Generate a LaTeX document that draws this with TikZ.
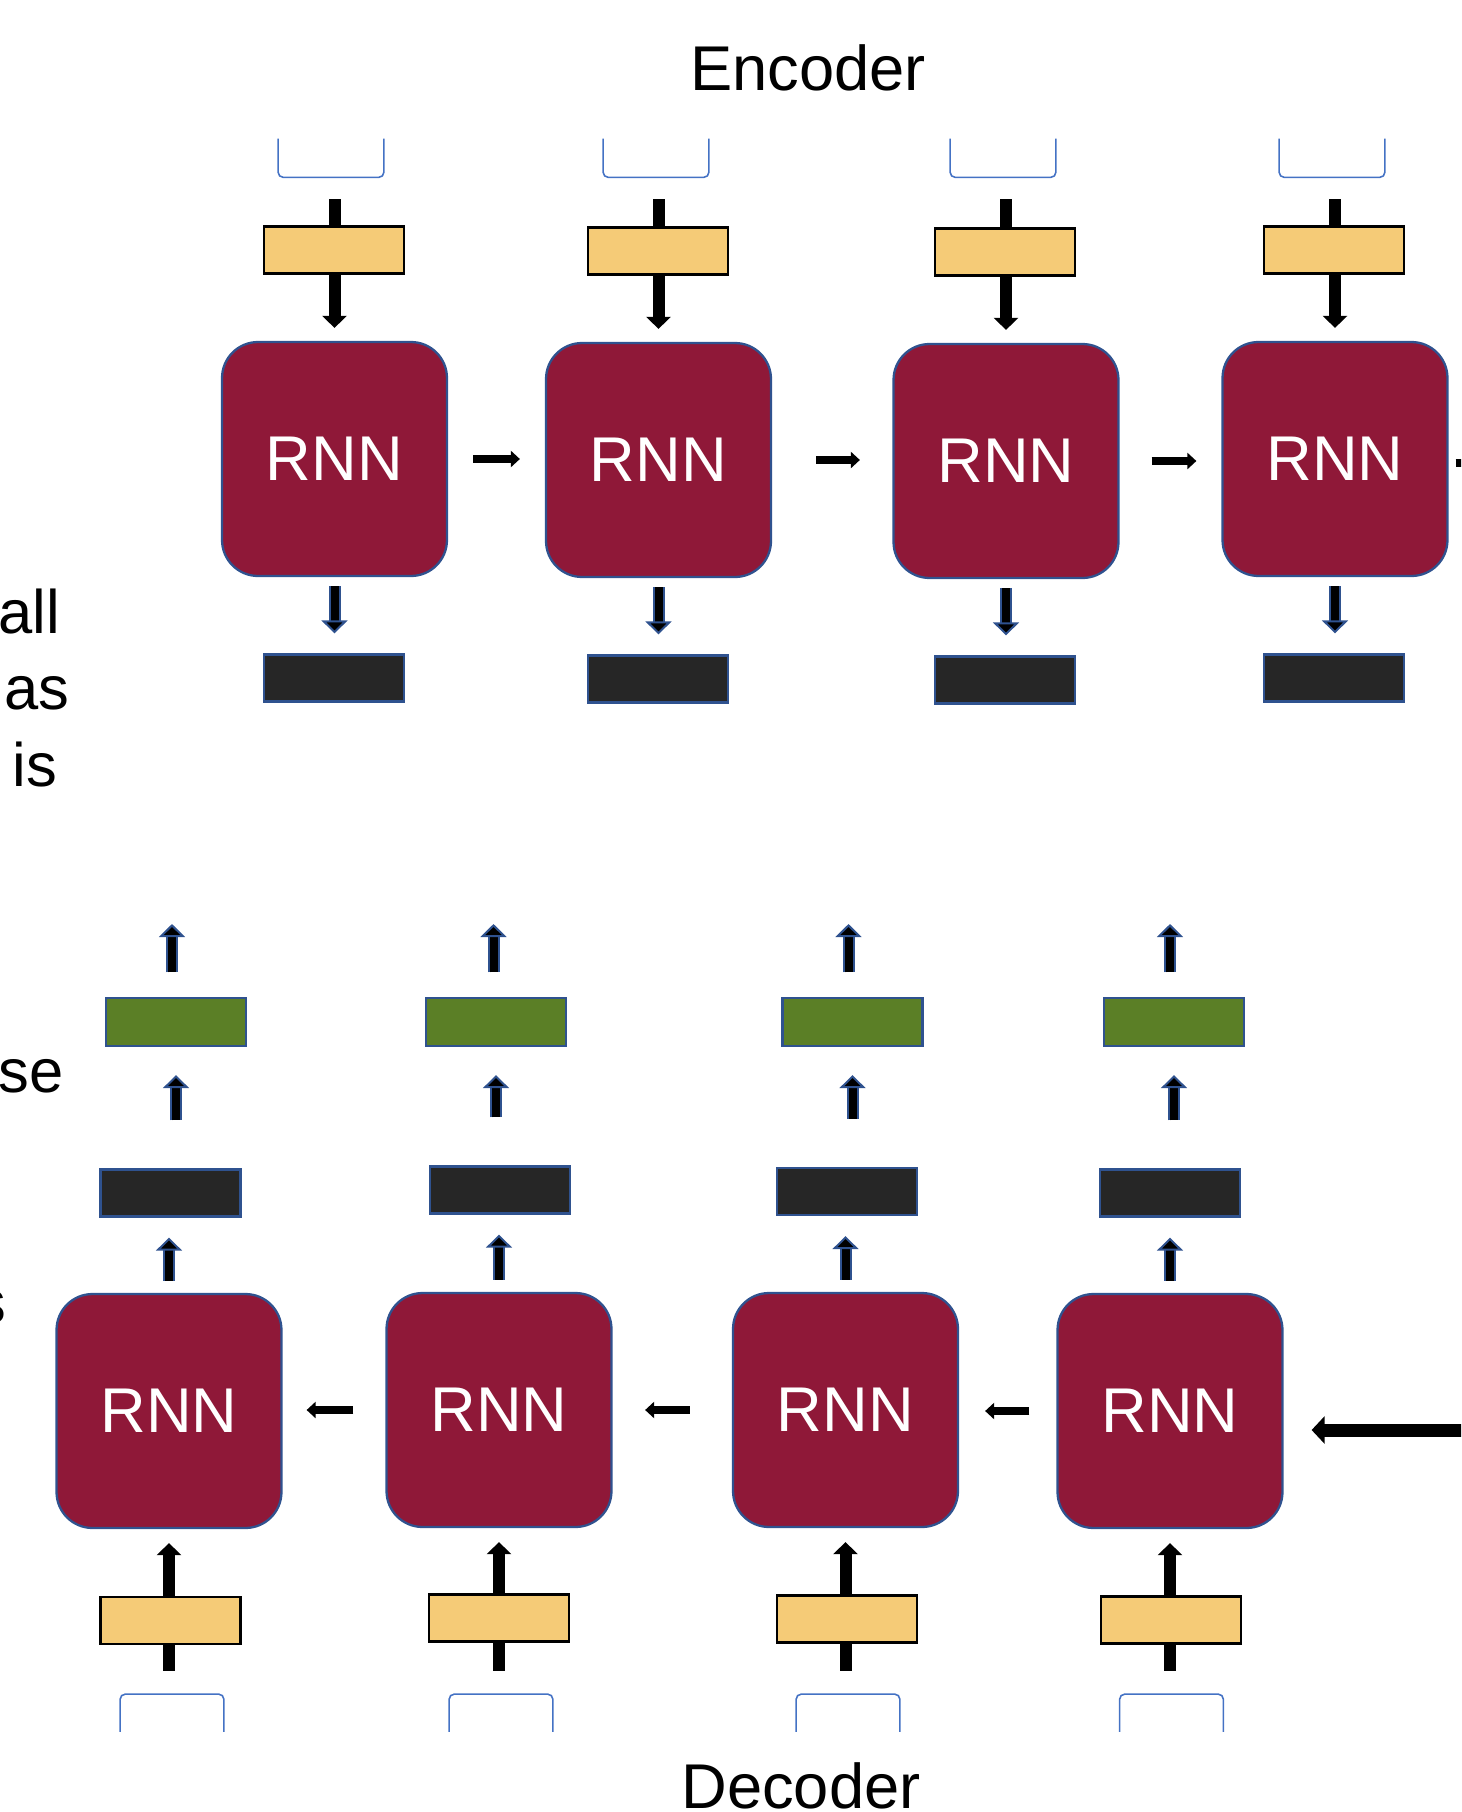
\documentclass[tikz,border=0pt]{standalone}
\usepackage{fontspec}
\setmainfont{Liberation Sans}
\usetikzlibrary{arrows.meta,positioning,backgrounds}
\definecolor{rnnred}{HTML}{8F1838}
\definecolor{edgeblue}{HTML}{2F528F}
\definecolor{lineblue}{HTML}{4472C4}
\definecolor{embyellow}{HTML}{F5CB77}
\definecolor{statebk}{HTML}{262626}
\definecolor{outgreen}{HTML}{5B7F26}
\tikzset{
  rnn/.style={draw=edgeblue,fill=rnnred,line width=1.3pt,rounded corners=0.72cm,
              minimum width=4.5cm,minimum height=4.68cm,inner sep=0pt,
              text=white,font=\fontsize{36}{43}\selectfont},
  embed/.style={draw=black,fill=embyellow,line width=1.6pt,
                minimum width=2.8cm,minimum height=0.94cm,inner sep=0pt},
  hidden/.style={draw=edgeblue,fill=statebk,line width=1.3pt,
                 minimum width=2.8cm,minimum height=0.94cm,inner sep=0pt},
  outbox/.style={draw=edgeblue,fill=outgreen,line width=1.3pt,
                 minimum width=2.8cm,minimum height=0.96cm,inner sep=0pt},
  tokbr/.style={minimum width=2.1cm,minimum height=0.76cm,inner sep=0pt,
    append after command={\pgfextra{\draw[lineblue,line width=0.9pt,rounded corners=0.1cm]
      (\tikzlastnode.north west) -- (\tikzlastnode.south west)
      -- (\tikzlastnode.south east) -- (\tikzlastnode.north east);}}},
  tokbrup/.style={minimum width=2.06cm,minimum height=0.74cm,inner sep=0pt,
    append after command={\pgfextra{\draw[lineblue,line width=0.9pt,rounded corners=0.1cm]
      (\tikzlastnode.south west) -- (\tikzlastnode.north west)
      -- (\tikzlastnode.north east) -- (\tikzlastnode.south east);}}},
  title/.style={font=\fontsize{36}{43}\selectfont,inner sep=0pt},
  sidetext/.style={font=\fontsize{35}{42}\selectfont,inner sep=0pt},
  feedarr/.style={-{Triangle[length=0.24cm,width=0.48cm]},line width=0.24cm},
  steparr/.style={-{Triangle[length=0.18cm,width=0.32cm]},line width=0.16cm},
  bigarr/.style={-{Triangle[length=0.26cm,width=0.54cm]},line width=0.26cm},
  blockarr/.style={draw=edgeblue,double=black,line width=0.04cm,double distance=0.16cm,
                   -{Triangle[length=0.26cm,width=0.52cm,fill=black]}}
}
\begin{document}
\begin{tikzpicture}[x=0.02cm,y=-0.02cm]
    \useasboundingbox (0,0) rectangle (1461,1812);
    \clip (0,0) rectangle (1461,1812);

    \node[title,anchor=base] (enc) at (808,90) {Encoder};
    \node[title,anchor=base] (dec) at (801,1808) {Decoder};

    % text running in from the left
    \node[sidetext,anchor=base west] (frag1) at (-2,633) {all};
    \node[sidetext,anchor=base west] (frag2) at (4,709) {as};
    \node[sidetext,anchor=base west] (frag3) at (12,786) {is};
    \node[sidetext,anchor=base west] (frag4) at (-2,1092) {se};
    \node[sidetext,anchor=base west] (frag5) at (-25,1323) {s};

    % encoder
    \node[tokbr] (x1) at (331,158) {};
    \node[tokbr] (x2) at (656,158) {};
    \node[tokbr] (x3) at (1003,158) {};
    \node[tokbr] (x4) at (1332,158) {};
    \node[embed] (v1) at (334,250) {};
    \node[embed] (v2) at (658,251) {};
    \node[embed] (v3) at (1005,252) {};
    \node[embed] (v4) at (1334,250) {};
    \node[rnn] (e1) at (334.5,459) {RNN};
    \node[rnn] (e2) at (658.5,460) {RNN};
    \node[rnn] (e3) at (1006,461) {RNN};
    \node[rnn] (e4) at (1335,459) {RNN};
    \node[hidden] (h1) at (334,678) {};
    \node[hidden] (h2) at (658,679) {};
    \node[hidden] (h3) at (1005,680) {};
    \node[hidden] (h4) at (1334,678) {};
    \coordinate (eo) at (1500,463);

    \begin{scope}[on background layer]
      \draw[feedarr,shorten <=0.44cm,shorten >=0.26cm] (x1.south -| e1) -- (e1.north);
      \draw[feedarr,shorten <=0.44cm,shorten >=0.26cm] (x2.south -| e2) -- (e2.north);
      \draw[feedarr,shorten <=0.44cm,shorten >=0.26cm] (x3.south -| e3) -- (e3.north);
      \draw[feedarr,shorten <=0.44cm,shorten >=0.26cm] (x4.south -| e4) -- (e4.north);
    \end{scope}
    \draw[blockarr,shorten <=0.18cm,shorten >=0.4cm] (e1.south) -- (e1.south |- h1.north);
    \draw[blockarr,shorten <=0.18cm,shorten >=0.4cm] (e2.south) -- (e2.south |- h2.north);
    \draw[blockarr,shorten <=0.18cm,shorten >=0.4cm] (e3.south) -- (e3.south |- h3.north);
    \draw[blockarr,shorten <=0.18cm,shorten >=0.4cm] (e4.south) -- (e4.south |- h4.north);
    \draw[steparr,shorten <=0.5cm,shorten >=0.5cm] (e1.east) -- (e1.east -| e2.west);
    \draw[steparr,shorten <=0.88cm,shorten >=0.65cm] (e2.east) -- (e2.east -| e3.west);
    \draw[steparr,shorten <=0.64cm,shorten >=0.5cm] (e3.east) -- (e3.east -| e4.west);
    \draw[steparr,shorten <=0.14cm] (e4.east |- eo) -- (eo);

    % decoder
    \node[tokbrup] (t1) at (172,1713) {};
    \node[tokbrup] (t2) at (501,1713) {};
    \node[tokbrup] (t3) at (848,1713) {};
    \node[tokbrup] (t4) at (1171.5,1713) {};
    \node[embed] (w1) at (170.5,1620.5) {};
    \node[embed] (w2) at (499,1618) {};
    \node[embed] (w3) at (847,1619) {};
    \node[embed] (w4) at (1171,1620) {};
    \node[rnn] (d1) at (169,1411) {RNN};
    \node[rnn] (d2) at (499,1410) {RNN};
    \node[rnn] (d3) at (845.5,1410) {RNN};
    \node[rnn] (d4) at (1170,1411) {RNN};
    \node[hidden] (s1) at (170.5,1193) {};
    \node[hidden] (s2) at (500,1190) {};
    \node[hidden] (s3) at (847,1191.5) {};
    \node[hidden] (s4) at (1170,1193) {};
    \node[outbox] (p1) at (176,1022) {};
    \node[outbox] (p2) at (496,1022) {};
    \node[outbox] (p3) at (852.5,1022) {};
    \node[outbox] (p4) at (1174,1022) {};
    \coordinate (q1) at (172,924);
    \coordinate (q2) at (493.5,924);
    \coordinate (q3) at (848.5,924);
    \coordinate (q4) at (1170,924);
    \coordinate (din) at (1500,1430);

    \begin{scope}[on background layer]
      \draw[feedarr,shorten <=0.47cm,shorten >=0.28cm] (t1.north -| d1) -- (d1.south);
      \draw[feedarr,shorten <=0.47cm,shorten >=0.28cm] (t2.north -| d2) -- (d2.south);
      \draw[feedarr,shorten <=0.47cm,shorten >=0.28cm] (t3.north -| d3) -- (d3.south);
      \draw[feedarr,shorten <=0.47cm,shorten >=0.28cm] (t4.north -| d4) -- (d4.south);
    \end{scope}
    \draw[blockarr,shorten <=0.24cm,shorten >=0.4cm] (d1.north) -- (d1.north |- s1.south);
    \draw[blockarr,shorten <=0.24cm,shorten >=0.4cm] (d2.north) -- (d2.north |- s2.south);
    \draw[blockarr,shorten <=0.24cm,shorten >=0.4cm] (d3.north) -- (d3.north |- s3.south);
    \draw[blockarr,shorten <=0.24cm,shorten >=0.4cm] (d4.north) -- (d4.north |- s4.south);
    \draw[blockarr,shorten <=0.96cm,shorten >=0.56cm] (s1.north -| p1) -- (p1.south);
    \draw[blockarr,shorten <=0.96cm,shorten >=0.56cm] (s2.north -| p2) -- (p2.south);
    \draw[blockarr,shorten <=0.96cm,shorten >=0.56cm] (s3.north -| p3) -- (p3.south);
    \draw[blockarr,shorten <=0.96cm,shorten >=0.56cm] (s4.north -| p4) -- (p4.south);
    \draw[blockarr,shorten <=0.49cm] (q1 |- p1.north) -- (q1);
    \draw[blockarr,shorten <=0.49cm] (q2 |- p2.north) -- (q2);
    \draw[blockarr,shorten <=0.49cm] (q3 |- p3.north) -- (q3);
    \draw[blockarr,shorten <=0.49cm] (q4 |- p4.north) -- (q4);
    \draw[steparr,shorten <=0.64cm,shorten >=0.48cm] (d2.west) -- (d2.west -| d1.east);
    \draw[steparr,shorten <=0.84cm,shorten >=0.65cm] (d3.west) -- (d3.west -| d2.east);
    \draw[steparr,shorten <=0.54cm,shorten >=0.52cm] (d4.west) -- (d4.west -| d3.east);
    \draw[bigarr,shorten >=0.56cm] (din) -- (din -| d4.east);
  \end{tikzpicture}
\end{document}
